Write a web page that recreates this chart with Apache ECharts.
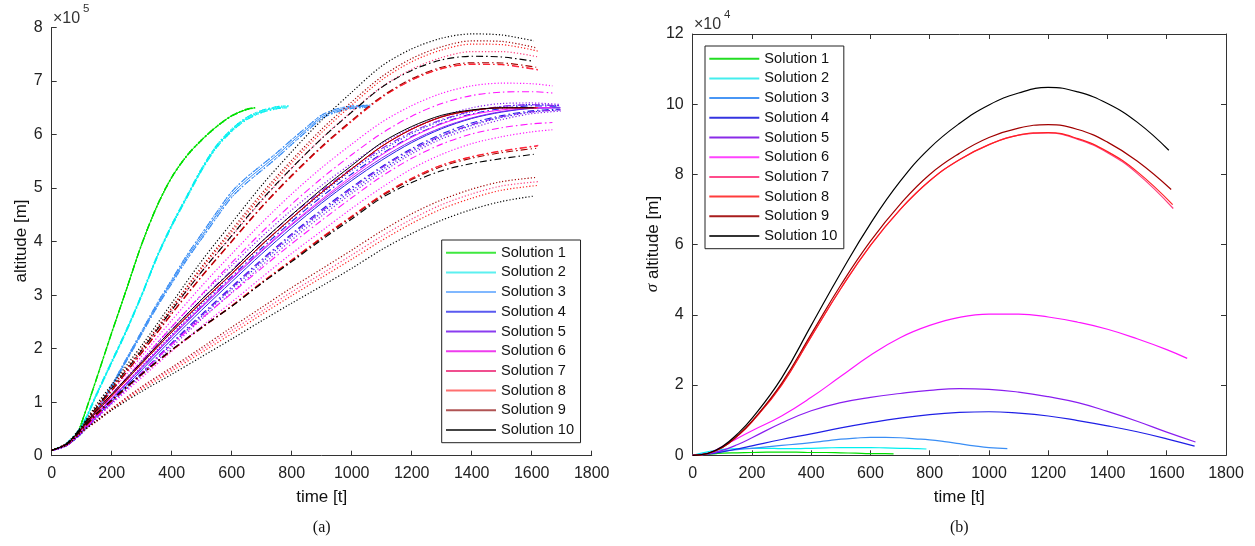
<!DOCTYPE html>
<html><head><meta charset="utf-8">
<script src="https://cdn.jsdelivr.net/npm/echarts@6/dist/echarts.min.js"></script>
<style>html,body{margin:0;padding:0;background:#fff}#c{width:1255px;height:546px}</style>
</head><body><div id="c"></div>
<script>
// ---------- DATA (altitude in 1e5 m, sigma in 1e4 m, time in t) ----------
const NAMES = ['Solution 1','Solution 2','Solution 3','Solution 4','Solution 5','Solution 6','Solution 7','Solution 8','Solution 9','Solution 10'];
const X_TICKS = [0,200,400,600,800,1000,1200,1400,1600,1800];

const T1   = [0,50,80,100,150,200,250,300,350,400,450,500,550,600,650,678];
const ALT1 = [0.1,0.2,0.35,0.62,1.45,2.3,3.12,3.95,4.65,5.2,5.6,5.9,6.15,6.35,6.47,6.5];
const SIG1 = [0,0.03,0.05,0.06,0.07,0.08,0.09,0.09,0.09,0.08,0.08,0.07,0.06,0.05,0.05,0.04];

const T2   = [0,50,100,150,200,250,300,350,400,450,500,550,600,650,700,750,789];
const ALT2 = [0.1,0.23,0.55,1.15,1.75,2.35,3.0,3.7,4.3,4.83,5.35,5.78,6.08,6.3,6.43,6.5,6.52];
const SIG2 = [0,0.1,0.17,0.19,0.2,0.2,0.19,0.19,0.2,0.21,0.22,0.22,0.22,0.21,0.2,0.19,0.18];

const T3   = [0,50,100,150,200,250,300,350,400,450,500,550,600,650,700,750,800,850,900,950,1000,1062];
const ALT3 = [0.1,0.2,0.45,0.85,1.3,1.8,2.3,2.8,3.25,3.7,4.1,4.5,4.88,5.15,5.38,5.61,5.86,6.1,6.33,6.45,6.51,6.53];
const SIG3 = [0,0.06,0.12,0.16,0.2,0.24,0.28,0.32,0.36,0.41,0.46,0.49,0.51,0.51,0.5,0.47,0.44,0.39,0.33,0.27,0.22,0.19];

const T4   = [0,50,100,150,200,300,400,500,600,700,800,900,1000,1100,1200,1300,1400,1500,1600,1694];
const ALT4 = [0.1,0.19,0.43,0.73,1.02,1.6,2.17,2.72,3.25,3.77,4.26,4.72,5.14,5.52,5.85,6.11,6.3,6.42,6.49,6.5];
const SIG4 = [0,0.03,0.1,0.18,0.27,0.45,0.61,0.78,0.93,1.06,1.16,1.22,1.24,1.2,1.12,0.99,0.84,0.67,0.47,0.26];
const DU4  = [0.1,0.19,0.45,0.76,1.06,1.67,2.26,2.84,3.39,3.93,4.43,4.9,5.33,5.7,6.02,6.26,6.43,6.52,6.56,6.54];
const DL4  = [0.1,0.19,0.42,0.7,0.98,1.53,2.08,2.6,3.11,3.61,4.09,4.54,4.95,5.34,5.68,5.96,6.17,6.32,6.42,6.46];

const T5   = [0,50,100,150,200,300,400,500,600,700,800,900,1000,1100,1200,1300,1400,1500,1600,1697];
const ALT5 = [0.1,0.2,0.45,0.76,1.06,1.64,2.22,2.77,3.3,3.82,4.31,4.76,5.18,5.56,5.88,6.13,6.31,6.43,6.49,6.5];
const SIG5 = [0,0.04,0.14,0.3,0.5,0.92,1.27,1.5,1.65,1.76,1.85,1.9,1.88,1.8,1.67,1.5,1.25,0.97,0.66,0.38];
const DU5  = [0.1,0.21,0.47,0.81,1.14,1.78,2.41,3.0,3.55,4.09,4.59,5.05,5.46,5.83,6.12,6.34,6.5,6.58,6.59,6.56];
const DL5  = [0.1,0.19,0.43,0.72,0.99,1.5,2.03,2.55,3.05,3.55,4.03,4.48,4.9,5.29,5.64,5.92,6.12,6.28,6.39,6.44];

const T6   = [0,50,100,150,200,300,400,500,600,700,800,900,1000,1100,1200,1300,1400,1500,1600,1669];
const ALT6 = [0.1,0.2,0.47,0.78,1.08,1.66,2.24,2.79,3.32,3.84,4.33,4.79,5.22,5.62,5.95,6.2,6.37,6.46,6.5,6.5];
const SIG6 = [0,0.05,0.25,0.48,0.7,1.12,1.65,2.25,2.85,3.35,3.7,3.93,4.02,4.02,3.94,3.79,3.59,3.32,3.01,2.76];
const DU6  = [0.1,0.21,0.52,0.86,1.2,1.86,2.53,3.17,3.77,4.35,4.89,5.38,5.82,6.23,6.54,6.77,6.91,6.96,6.95,6.91];
const DL6  = [0.1,0.19,0.43,0.7,0.96,1.46,1.95,2.42,2.87,3.33,3.78,4.2,4.62,5.01,5.36,5.63,5.83,5.96,6.05,6.09];

const T7   = [0,50,100,150,200,300,400,500,600,700,800,900,1000,1100,1200,1300,1400,1500,1622];
const ALT7 = [0.1,0.22,0.5,0.82,1.12,1.72,2.31,2.87,3.4,3.94,4.44,4.92,5.36,5.78,6.1,6.33,6.45,6.5,6.5];
const SIG7 = [0,0.05,0.22,0.54,0.95,2.0,3.38,4.75,5.98,7.0,7.82,8.42,8.85,9.12,9.18,9.0,8.62,8.03,7.03];
const DU7  = [0.1,0.23,0.52,0.9,1.26,1.95,2.7,3.44,4.1,4.76,5.37,5.93,6.43,6.89,7.22,7.44,7.55,7.55,7.45];
const DL7  = [0.1,0.2,0.45,0.65,0.87,1.27,1.62,1.98,2.34,2.7,3.06,3.4,3.75,4.1,4.42,4.69,4.89,5.04,5.12];

const T8   = [0,50,100,150,200,300,400,500,600,700,800,900,1000,1100,1200,1300,1400,1500,1620];
const ALT8 = [0.1,0.22,0.5,0.82,1.12,1.72,2.31,2.87,3.4,3.94,4.44,4.92,5.36,5.78,6.1,6.33,6.45,6.5,6.5];
const SIG8 = [0,0.05,0.22,0.54,0.95,2.0,3.38,4.75,5.98,7.0,7.82,8.42,8.85,9.12,9.19,9.02,8.65,8.08,7.14];
const DU8  = [0.1,0.23,0.53,0.92,1.28,1.99,2.75,3.5,4.18,4.85,5.47,6.04,6.55,7.02,7.36,7.58,7.69,7.68,7.56];
const DL8  = [0.1,0.2,0.44,0.64,0.86,1.24,1.58,1.93,2.28,2.64,2.99,3.33,3.67,4.02,4.34,4.61,4.81,4.96,5.05];

const T9   = [0,50,100,150,200,300,400,500,600,700,800,900,1000,1100,1200,1300,1400,1500,1615];
const ALT9 = [0.1,0.22,0.5,0.82,1.12,1.72,2.31,2.87,3.4,3.94,4.44,4.92,5.36,5.78,6.1,6.33,6.45,6.5,6.5];
const SIG9 = [0,0.05,0.22,0.55,0.97,2.05,3.45,4.85,6.1,7.15,8.0,8.6,9.05,9.32,9.42,9.28,8.92,8.38,7.57];
const DU9  = [0.1,0.23,0.53,0.92,1.29,2.0,2.77,3.53,4.22,4.9,5.52,6.1,6.61,7.08,7.42,7.64,7.75,7.74,7.62];
const DL9  = [0.1,0.2,0.44,0.66,0.88,1.29,1.65,2.02,2.4,2.77,3.14,3.49,3.84,4.2,4.52,4.78,4.98,5.12,5.2];

const T10   = [0,50,100,150,200,300,400,500,600,700,800,900,1000,1100,1200,1300,1400,1500,1607];
const ALT10 = [0.1,0.22,0.52,0.85,1.15,1.75,2.35,2.92,3.45,4.0,4.5,4.98,5.42,5.85,6.15,6.36,6.46,6.5,6.5];
const SIG10 = [0,0.05,0.25,0.6,1.05,2.2,3.7,5.2,6.6,7.8,8.75,9.45,9.98,10.32,10.48,10.35,10.02,9.49,8.69];
const DU10  = [0.1,0.23,0.56,0.96,1.33,2.06,2.85,3.64,4.35,5.05,5.68,6.27,6.79,7.28,7.6,7.8,7.88,7.86,7.75];
const DL10  = [0.1,0.2,0.45,0.65,0.85,1.2,1.52,1.85,2.18,2.52,2.85,3.17,3.5,3.85,4.15,4.4,4.6,4.75,4.85];

// ---------- styling ----------
const COLORS   = ['#00e000','#00f0f0','#3a8ef5','#1f1fe6','#8a1ef0','#ff14ff','#ff3d7f','#ff2020','#a00000','#000000'];
const LEG_L    = ['#3fe83f','#5cf0f0','#80b8ff','#5a5af0','#8a3cf0','#ee3cee','#f04f8f','#ff7070','#b05454','#444444'];
const LEG_R    = ['#22dd22','#44eeee','#4896f5','#3434e0','#8a2be8','#ff44ff','#ff4c8c','#ff3c3c','#a81c1c','#333333'];
const SOL = [
  {T:T1,A:ALT1,S:SIG1},{T:T2,A:ALT2,S:SIG2},{T:T3,A:ALT3,S:SIG3},
  {T:T4,A:ALT4,S:SIG4,U:DU4,L:DL4},{T:T5,A:ALT5,S:SIG5,U:DU5,L:DL5},{T:T6,A:ALT6,S:SIG6,U:DU6,L:DL6},
  {T:T7,A:ALT7,S:SIG7,U:DU7,L:DL7},{T:T8,A:ALT8,S:SIG8,U:DU8,L:DL8},{T:T9,A:ALT9,S:SIG9,U:DU9,L:DL9},
  {T:T10,A:ALT10,S:SIG10,U:DU10,L:DL10}
];
const FONT = "'Liberation Sans', Arial, sans-serif";
const DOT = [1.2,2];
const DASHDOT = [7,3,1.5,3];

function pts(T,V){ return T.map((t,i)=>[t,V[i]]); }
function line(name, data, color, type, xi, yi, w, sm){
  return {type:'line', name, data, xAxisIndex:xi, yAxisIndex:yi, showSymbol:false, symbol:'none',
    smooth:sm||0.3, silent:true, lineStyle:{color, width:w||1, type}, itemStyle:{color}, emphasis:{disabled:true}};
}
const series = [];
SOL.forEach((s,i)=>{
  const c = COLORS[i], n = NAMES[i];
  const hi = s.T.map((t,k)=>[t, s.A[k] + s.S[k]/10]);
  const lo = s.T.map((t,k)=>[t, s.A[k] - s.S[k]/10]);
  const up = s.U ? pts(s.T,s.U) : hi;
  const dn = s.L ? pts(s.T,s.L) : lo;
  series.push(line(n, up, c, DOT, 0, 0, 1.2));
  series.push(line(n, dn, c, DOT, 0, 0, 1.2));
  series.push(line(n, hi, c, DASHDOT, 0, 0, 1.1));
  series.push(line(n, lo, c, DASHDOT, 0, 0, 1.1));
  series.push(line(n, pts(s.T,s.A), c, 'solid', 0, 0, 1));
});
SOL.forEach((s,i)=>{ series.push(line(NAMES[i], pts(s.T,s.S), COLORS[i], 'solid', 1, 1, 1.2, 0.45)); });

const axisLineStyle = {color:'#333', width:1};
const lab = {fontFamily:FONT, fontSize:16, color:'#222', formatter:(v)=>String(v)};
function xa(grid, pos, showLab){
  return {type:'value', gridIndex:grid, position:pos, min:0, max:1800, interval:200,
    axisLine:{show:true, onZero:false, lineStyle:axisLineStyle},
    axisTick:{show:true, inside:true, length:5, lineStyle:axisLineStyle},
    axisLabel:Object.assign({show:showLab, margin:10}, lab), splitLine:{show:false}};
}
function ya(grid, pos, max, interval, showLab){
  return {type:'value', gridIndex:grid, position:pos, min:0, max, interval,
    axisLine:{show:true, onZero:false, lineStyle:axisLineStyle},
    axisTick:{show:true, inside:true, length:5, lineStyle:axisLineStyle},
    axisLabel:Object.assign({show:showLab, margin:9}, lab), splitLine:{show:false}};
}
function legend(left, top, colors){
  return {orient:'vertical', left, top, icon:'rect', itemWidth:50, itemHeight:2, itemGap:3.7,
    padding:[4.7,6.5,4.7,4.3], borderColor:'#222', borderWidth:1, backgroundColor:'#fff',
    textStyle:{fontFamily:FONT, fontSize:14.6, color:'#111', lineHeight:16},
    selectedMode:false,
    data:NAMES.map((n,i)=>({name:n, itemStyle:{color:colors[i]}}))};
}
function txt(x,y,text,size){
  return {type:'text', x, y, silent:true, style:{text, fontFamily:FONT, fontSize:size, fill:'#333'}};
}
function ctext(x,y,text,size,rot,fam,rich){
  return {type:'text', x, y, rotation:rot||0, silent:true,
    style:{text, fontFamily:fam||FONT, fontSize:size, fill:'#111', align:'center', verticalAlign:'middle', rich:rich||{}}};
}

const option = {
  animation:false,
  grid:[{left:51.7, top:27.5, width:540, height:428.2},{left:692.7, top:34, width:533.3, height:421.3}],
  xAxis:[xa(0,'bottom',true), xa(1,'bottom',true), xa(1,'top',false)],
  yAxis:[ya(0,'left',8,1,true), ya(1,'left',12,2,true), ya(1,'right',12,2,false)],
  legend:[legend(441.7,240,LEG_L), legend(705,46,LEG_R)],
  series,
  graphic:[
    txt(53,11,'×10',16), txt(83,3,'5',11.5),
    txt(694,17,'×10',16), txt(724,9,'4',11.5),
    ctext(21,241,'altitude [m]',17,Math.PI/2),
    ctext(653,244,'{s|σ} altitude [m]',17,Math.PI/2,FONT,{s:{fontFamily:"'Liberation Serif', serif", fontStyle:'italic', fontSize:17, fill:'#111'}}),
    ctext(321.7,497,'time [t]',17),
    ctext(959.3,497,'time [t]',17),
    ctext(321.7,528,'(a)',16,0,"'Liberation Serif', serif"),
    ctext(959.3,528,'(b)',16,0,"'Liberation Serif', serif")
  ]
};
echarts.init(document.getElementById('c'), null, {renderer:'canvas'}).setOption(option);
</script></body></html>
